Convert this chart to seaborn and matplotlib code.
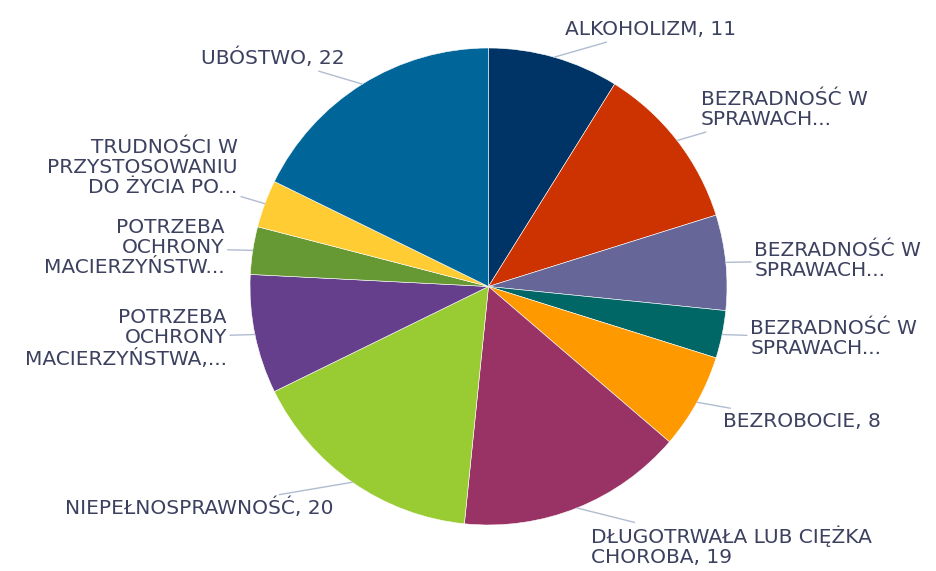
import numpy as np
import seaborn as sns
import matplotlib.pyplot as plt

# categories (clockwise from the top) and counts
labels = ['ALKOHOLIZM, 11',
          'BEZRADNOŚĆ W\nSPRAWACH...',
          'BEZRADNOŚĆ W\nSPRAWACH...',
          'BEZRADNOŚĆ W\nSPRAWACH...',
          'BEZROBOCIE, 8',
          'DŁUGOTRWAŁA LUB CIĘŻKA\nCHOROBA, 19',
          'NIEPEŁNOSPRAWNOŚĆ, 20',
          'POTRZEBA\nOCHRONY\nMACIERZYŃSTWA,...',
          'POTRZEBA\nOCHRONY\nMACIERZYŃSTW...',
          'TRUDNOŚCI W\nPRZYSTOSOWANIU\nDO ŻYCIA PO...',
          'UBÓSTWO, 22']
values = [11, 14, 8, 4, 8, 19, 20, 10, 4, 4, 22]
colors = ['#003466', '#cc3300', '#666699', '#006666', '#ff9900', '#993366',
          '#99cc33', '#663f8c', '#669933', '#ffcc33', '#006699']

sns.set_theme(style='white')
plt.rcParams['font.family'] = ['DejaVu Sans']

fig = plt.figure(figsize=(9.36, 5.71), dpi=100)
ax = fig.add_axes([0, 0, 1, 1])

wedges, _ = ax.pie(values, colors=colors, startangle=90, counterclock=False,
                   wedgeprops={'linewidth': 0.4, 'edgecolor': 'white'})

# leader lines and labels placed from each wedge's mid angle
for w, lab in zip(wedges, labels):
    ang = np.deg2rad((w.theta1 + w.theta2) / 2)
    x, y = np.cos(ang), np.sin(ang)
    ha = 'left' if x > 0 else 'right'
    if y > 0.3:
        va = 'bottom'
    elif y < -0.3:
        va = 'top'
    else:
        va = 'center'
    ax.annotate(lab, xy=(x, y), xytext=(1.1 * x + 0.02 * np.sign(x), 1.08 * y),
                ha=ha, va=va, fontsize=14.5, color='#3d4160',
                linespacing=1.08, multialignment='right' if x < 0 else 'left',
                arrowprops=dict(arrowstyle='-', color='#b0bcd0', lw=1,
                                shrinkA=0, shrinkB=0))

cx, cy, r = 488.5, 286.5, 238.5
ax.set_xlim(-cx / r, (936 - cx) / r)
ax.set_ylim(-(571 - cy) / r, cy / r)
ax.set_aspect('equal', adjustable='datalim')
ax.axis('off')

fig.savefig('out.png', dpi=100)
